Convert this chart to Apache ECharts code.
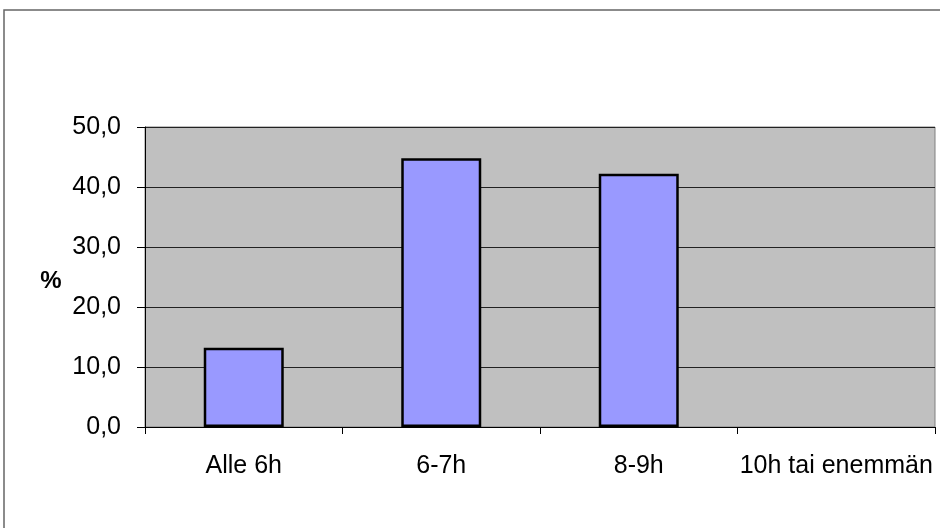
<!DOCTYPE html>
<html>
<head>
<meta charset="utf-8">
<style>
  html, body { margin: 0; padding: 0; background: #fff; }
  #chart { width: 940px; height: 528px; }
</style>
<script src="https://cdn.jsdelivr.net/npm/echarts@6/dist/echarts.min.js"></script>
</head>
<body>
<div id="chart"></div>
<script>
// Sleep duration categories and share of respondents (%)
const categories = ['Alle 6h', '6-7h', '8-9h', '10h tai enemmän'];
const values = [13.2, 44.8, 42.2, 0];
const yTicks = { min: 0, max: 50, interval: 10 };
const yAxisTitle = '%';

const chart = echarts.init(document.getElementById('chart'), null, { renderer: 'canvas' });

const fmt = v => v.toFixed(1).replace('.', ',');
const FONT = 'Liberation Sans, Arial, sans-serif';

// zero-height bars get no outline so they leave no stray line on the axis
const barData = values.map(v => (v === 0 ? { value: v, itemStyle: { borderWidth: 0 } } : v));

chart.setOption({
  animation: false,
  backgroundColor: '#ffffff',
  textStyle: { fontFamily: FONT },
  graphic: [
    // chart frame (left and top edges)
    { type: 'polyline', shape: { points: [[4, 528], [4, 10], [940, 10]] },
      style: { stroke: '#666', lineWidth: 1.5, fill: null } },
    // value axis title
    { type: 'text', x: 51, y: 281,
      style: { text: yAxisTitle, font: 'bold 24px ' + FONT, fill: '#000',
               textAlign: 'center', textVerticalAlign: 'middle' } }
  ],
  grid: {
    left: 145, right: 5, top: 127, bottom: 101,
    show: true, backgroundColor: '#c0c0c0', borderColor: '#808080', borderWidth: 1
  },
  xAxis: {
    type: 'category',
    data: categories,
    axisLine: { lineStyle: { color: '#000', width: 1 } },
    axisTick: { show: true, interval: 0, length: 7, lineStyle: { color: '#000' } },
    axisLabel: { color: '#000', fontSize: 25, margin: 27, interval: 0, hideOverlap: false },
    splitLine: { show: false }
  },
  yAxis: {
    type: 'value',
    min: yTicks.min, max: yTicks.max, interval: yTicks.interval,
    axisLine: { show: true, lineStyle: { color: '#000', width: 1 } },
    axisTick: { show: true, length: 8, lineStyle: { color: '#000' } },
    axisLabel: { color: '#000', fontSize: 25, margin: 24, formatter: fmt },
    splitLine: { show: true, lineStyle: { color: '#222', width: 1 } }
  },
  series: [{
    type: 'bar',
    data: barData,
    barWidth: '40.5%',
    itemStyle: { color: '#9999ff', borderColor: '#000', borderWidth: 2.5 }
  }]
});
</script>
</body>
</html>
